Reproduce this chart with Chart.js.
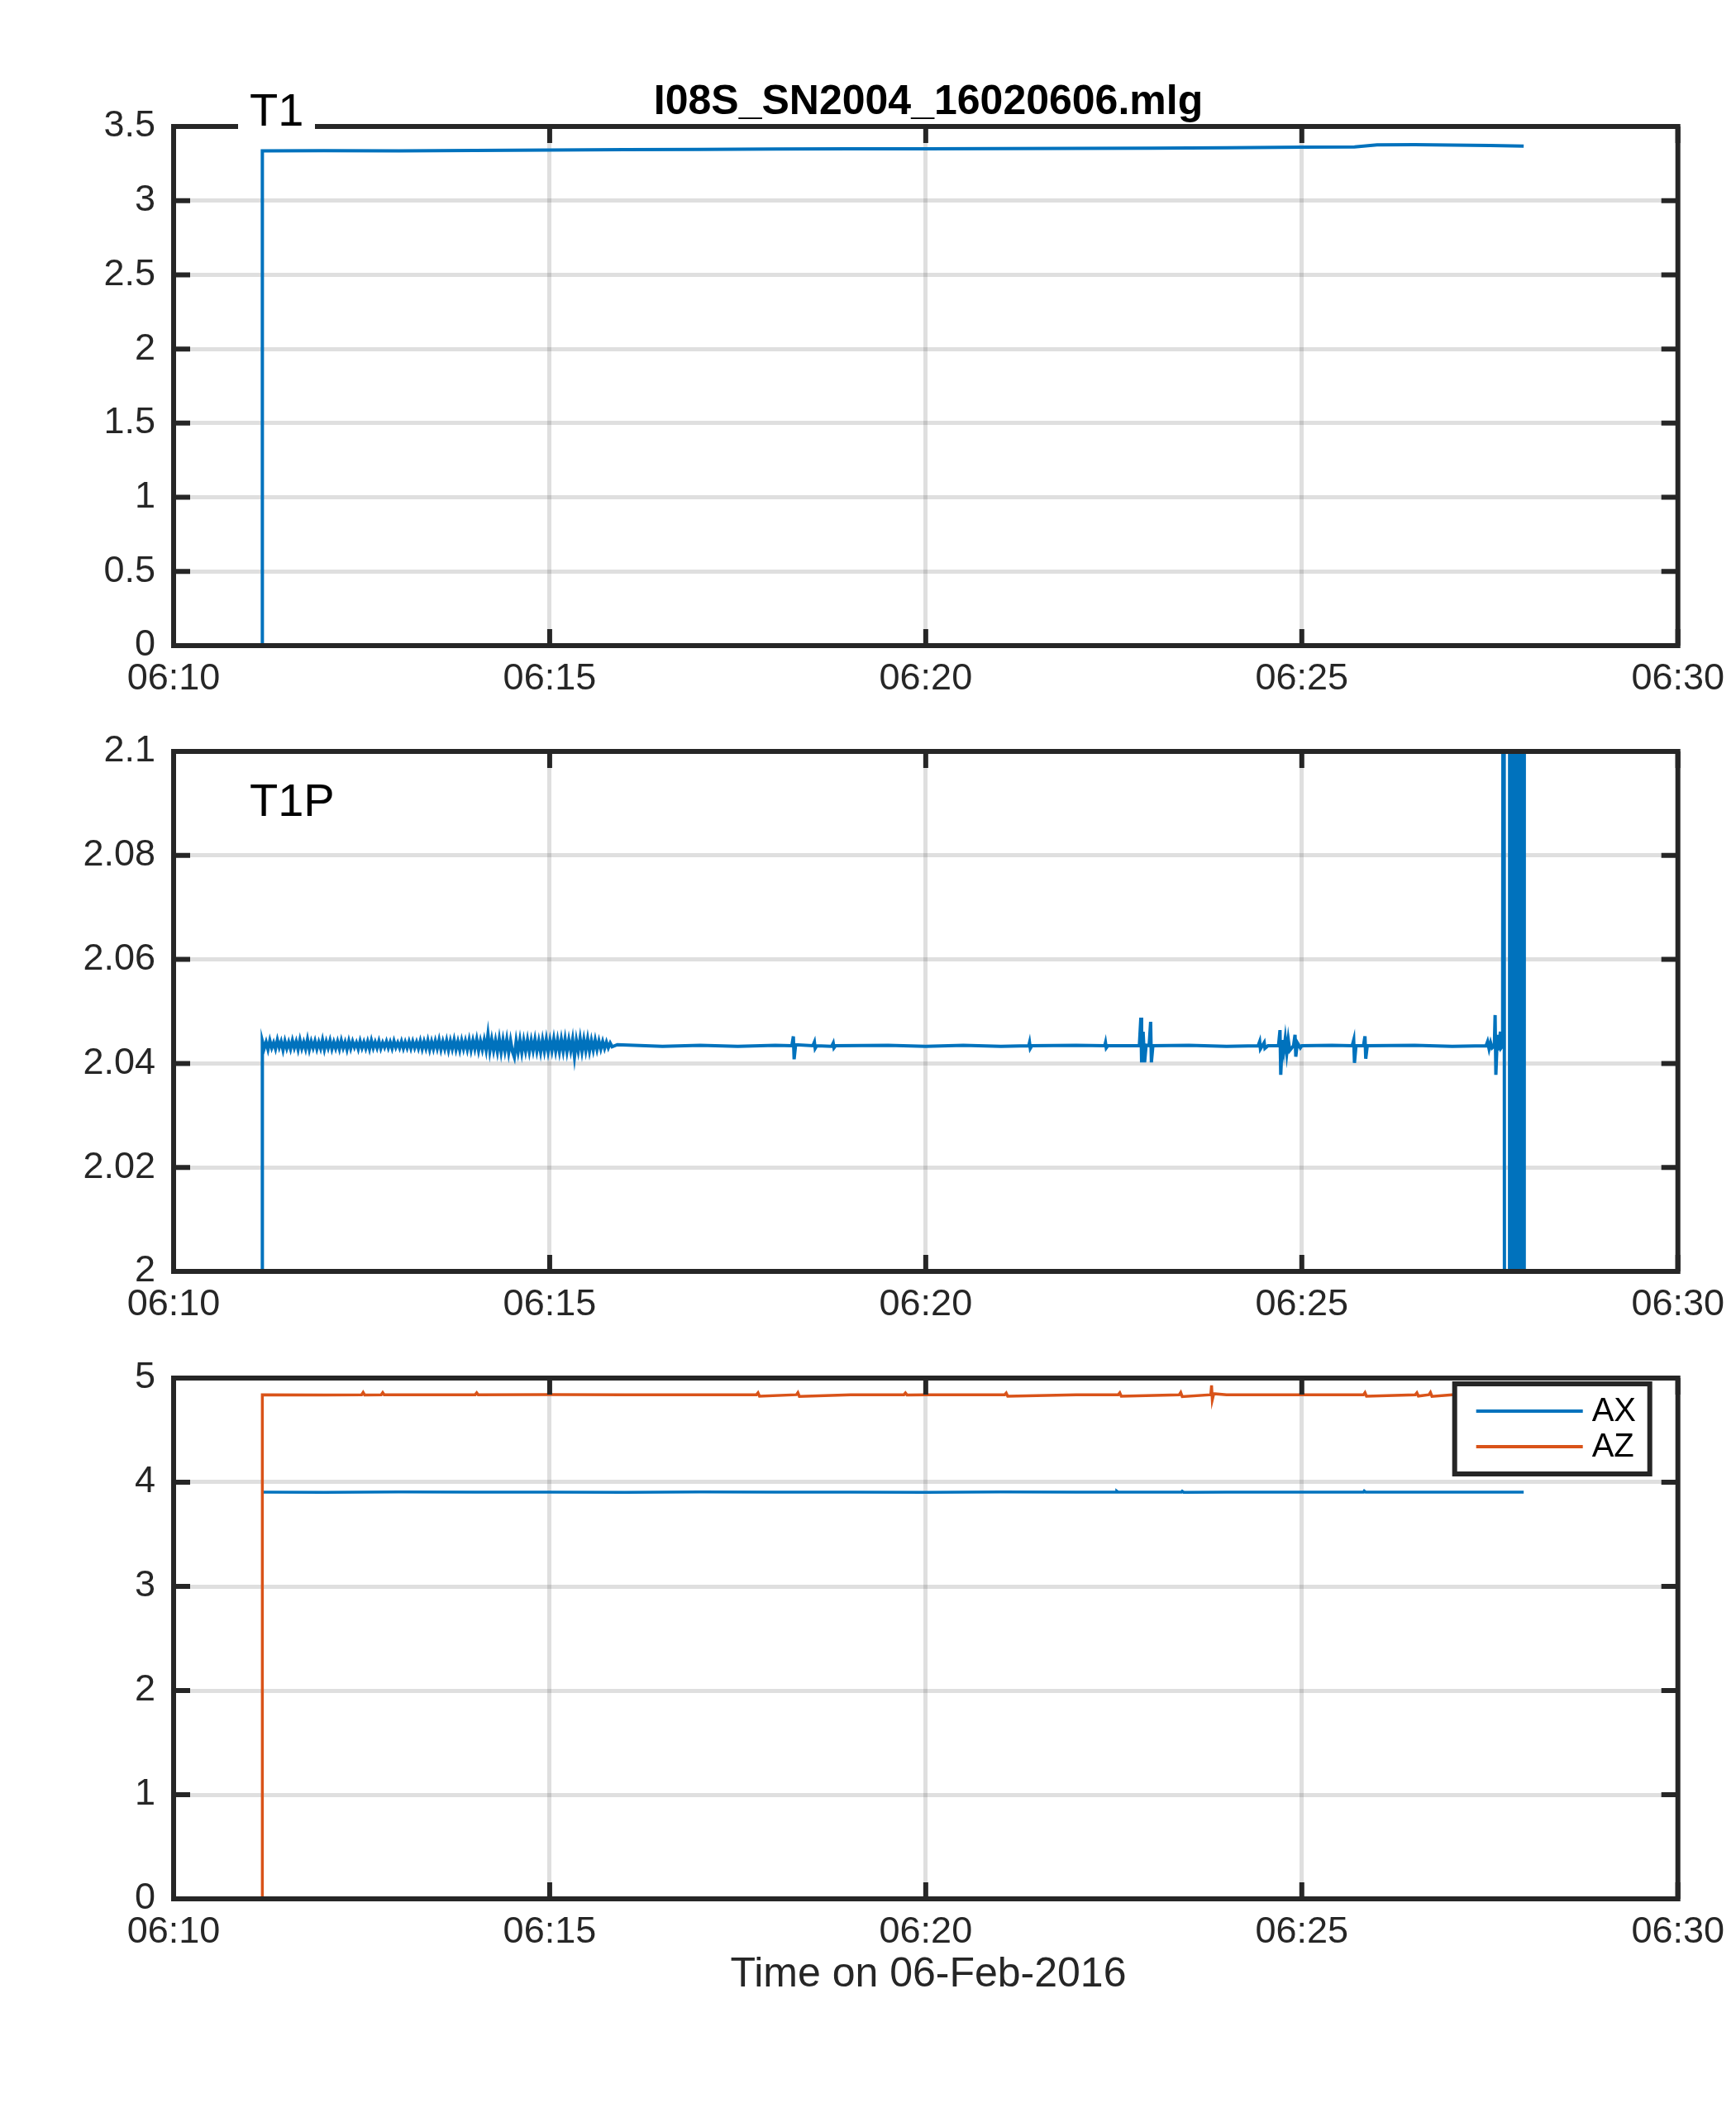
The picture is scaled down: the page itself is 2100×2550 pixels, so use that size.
<!DOCTYPE html>
<html>
<head>
<meta charset="utf-8">
<script src="https://cdn.jsdelivr.net/npm/chart.js@4.4.0/dist/chart.umd.min.js"></script>
<style>
  body { margin: 0; background: #fff; width: 2100px; height: 2550px; position: relative; overflow: hidden; }
  .panel { position: absolute; left: 0; width: 2100px; }
  .txt { position: absolute; font-family: 'Liberation Sans', Arial, Helvetica, sans-serif; line-height: 1; white-space: nowrap; z-index: 5; }
</style>
</head>
<body>
<div class="panel" style="top:0px;height:900px"><canvas id="c1" width="2100" height="900"></canvas></div>
<div class="panel" style="top:820px;height:850px"><canvas id="c2" width="2100" height="850"></canvas></div>
<div class="panel" style="top:1600px;height:800px"><canvas id="c3" width="2100" height="800"></canvas></div>

<div class="txt" style="left:1123px;top:96px;transform:translateX(-50%);font-size:50px;font-weight:bold;color:#000">I08S_SN2004_16020606.mlg</div>
<div class="txt" style="left:288px;top:105px;font-size:56px;color:#000;background:#fff;padding:0 14px">T1</div>
<div class="txt" style="left:302px;top:940px;font-size:56px;color:#000">T1P</div>
<div class="txt" style="left:1123px;top:2361px;transform:translateX(-50%);font-size:50px;color:#262626">Time on 06-Feb-2016</div>

<script>
// time axis: minutes after 06:00
const xTicks = [10, 15, 20, 25, 30];

// T1
const t1Time = [11.18, 11.18, 12, 13, 14, 15, 16, 17, 18, 19, 20, 21, 22, 23, 24, 25, 25.7, 26.0, 26.5, 27, 27.5, 27.95];
const t1Value = [0, 3.335, 3.337, 3.336, 3.338, 3.341, 3.344, 3.346, 3.348, 3.349, 3.350, 3.351, 3.352, 3.354, 3.357, 3.360, 3.362, 3.376, 3.377, 3.374, 3.372, 3.368];

// T1P: noisy start (sampled every 0.025 min from 11.18)
const t1pBandStart = 11.18;
const t1pBandStep = 0.025;
const t1pBand = [
  2.0443, 2.0429, 2.0441, 2.0427, 2.0444, 2.0430, 2.0440, 2.0428, 2.0445, 2.0431, 2.0442, 2.0426, 2.0443, 2.0429, 2.0441, 2.0428, 2.0444, 2.0430, 2.0442, 2.0427,
  2.0445, 2.0429, 2.0441, 2.0428, 2.0446, 2.0427, 2.0442, 2.0430, 2.0443, 2.0428, 2.0441, 2.0429, 2.0445, 2.0427, 2.0442, 2.0430, 2.0444, 2.0428, 2.0441, 2.0429,
  2.0442, 2.0428, 2.0444, 2.0430, 2.0441, 2.0427, 2.0443, 2.0429, 2.0442, 2.0431, 2.0440, 2.0428, 2.0443, 2.0430, 2.0441, 2.0429, 2.0442, 2.0428, 2.0444, 2.0430,
  2.0441, 2.0430, 2.0443, 2.0429, 2.0440, 2.0431, 2.0442, 2.0430, 2.0441, 2.0429, 2.0443, 2.0431, 2.0440, 2.0430, 2.0442, 2.0429, 2.0441, 2.0430, 2.0442, 2.0429,
  2.0442, 2.0430, 2.0441, 2.0429, 2.0443, 2.0428, 2.0442, 2.0429, 2.0444, 2.0427, 2.0442, 2.0428, 2.0443, 2.0429, 2.0445, 2.0427, 2.0442, 2.0428, 2.0444, 2.0426,
  2.0443, 2.0428, 2.0445, 2.0427, 2.0442, 2.0426, 2.0444, 2.0428, 2.0443, 2.0427, 2.0445, 2.0426, 2.0444, 2.0428, 2.0446, 2.0425, 2.0443, 2.0427, 2.0445, 2.0426,
  2.0456, 2.0424, 2.0446, 2.0425, 2.0444, 2.0423, 2.0447, 2.0422, 2.0445, 2.0424, 2.0446, 2.0421, 2.0444, 2.0423, 2.0412, 2.0443, 2.0422, 2.0445, 2.0421, 2.0444,
  2.0424, 2.0445, 2.0423, 2.0444, 2.0425, 2.0446, 2.0424, 2.0443, 2.0422, 2.0445, 2.0424, 2.0446, 2.0423, 2.0444, 2.0425, 2.0447, 2.0424, 2.0445, 2.0423, 2.0446,
  2.0424, 2.0447, 2.0423, 2.0445, 2.0425, 2.0446, 2.0413, 2.0444, 2.0424, 2.0448, 2.0423, 2.0446, 2.0425, 2.0447, 2.0424, 2.0444, 2.0426, 2.0445, 2.0427, 2.0443,
  2.0428, 2.0442, 2.0429, 2.0441, 2.0430, 2.0439, 2.0432
];
// T1P: quieter part with spikes
const t1pTailTime = [
  15.90, 16.5, 17.0, 17.5, 18.0, 18.22, 18.24, 18.25, 18.27, 18.5, 18.52, 18.53, 18.55,
  18.75, 18.77, 18.78, 18.80, 19.5, 20.0, 20.5, 21.0, 21.37, 21.38, 21.39, 21.41, 22.0,
  22.38, 22.39, 22.40, 22.42, 22.84, 22.86, 22.87, 22.89, 22.91, 22.93, 22.97, 22.99, 23.00, 23.02,
  23.5, 24.0, 24.42, 24.44, 24.45, 24.50, 24.51, 24.55, 24.69, 24.71, 24.72, 24.74, 24.76,
  24.78, 24.80, 24.82, 24.84, 24.89, 24.91, 24.92, 24.94, 24.98, 25.00, 25.4, 25.67, 25.69,
  25.70, 25.72, 25.82, 25.84, 25.85, 25.87, 26.5, 27.0, 27.45, 27.47, 27.49, 27.51, 27.53,
  27.56, 27.57, 27.58, 27.60, 27.62, 27.64, 27.65, 27.67
];
const t1pTailValue = [
  2.0436, 2.0433, 2.0435, 2.0433, 2.0435, 2.0434, 2.0452, 2.0408, 2.0436, 2.0434, 2.0441, 2.0429, 2.0434,
  2.0433, 2.0439, 2.0430, 2.0434, 2.0435, 2.0433, 2.0435, 2.0433, 2.0434, 2.0440, 2.0429, 2.0434, 2.0435,
  2.0434, 2.0440, 2.0430, 2.0434, 2.0434, 2.0488, 2.0402, 2.0461, 2.0402, 2.0435, 2.0434, 2.0480, 2.0402, 2.0434,
  2.0435, 2.0433, 2.0434, 2.0442, 2.0428, 2.0440, 2.0429, 2.0434, 2.0434, 2.0464, 2.0378, 2.0445, 2.0424,
  2.0448, 2.0420, 2.0446, 2.0425, 2.0434, 2.0455, 2.0413, 2.0440, 2.0430, 2.0434, 2.0435, 2.0434, 2.0445,
  2.0401, 2.0434, 2.0434, 2.0452, 2.0409, 2.0434, 2.0435, 2.0433, 2.0434, 2.0442, 2.0428, 2.0440, 2.0430,
  2.0434, 2.0493, 2.0378, 2.0455, 2.0425, 2.0461, 2.0430, 2.0434
];
// T1P: end of record, readings jump off scale
const t1pEndTime = [
  27.685, 27.70, 27.76, 27.765, 27.775, 27.785, 27.795, 27.805, 27.815, 27.825, 27.835, 27.845,
  27.855, 27.865, 27.875, 27.885, 27.895, 27.905, 27.915, 27.925, 27.935, 27.945, 27.955, 27.96
];
const t1pEndValue = [
  2.3, 1.8, 1.8, 2.3, 1.8, 2.3, 1.8, 2.3, 1.8, 2.3, 1.8, 2.3,
  1.8, 2.3, 1.8, 2.3, 1.8, 2.3, 1.8, 2.3, 1.8, 2.3, 1.8, 2.3
];

// AX / AZ
const axTime = [11.18, 12, 13, 14, 15, 16, 17, 18, 19, 20, 21, 22, 22.53, 22.54, 22.56, 23, 23.40, 23.41, 23.43, 24, 25, 25.82, 25.83, 25.85, 26, 27, 27.95];
const axValue = [3.905, 3.903, 3.906, 3.904, 3.905, 3.903, 3.906, 3.904, 3.905, 3.903, 3.906, 3.904, 3.905, 3.915, 3.904, 3.905, 3.905, 3.914, 3.903, 3.905, 3.904, 3.905, 3.916, 3.904, 3.905, 3.904, 3.905];
const azTime = [
  11.18, 11.18, 12, 12.50, 12.52, 12.54, 12.76, 12.78, 12.80, 13, 14.01, 14.03, 14.05, 15, 16, 17,
  17.75, 17.77, 17.79, 18.28, 18.30, 18.32, 19, 19.71, 19.73, 19.75, 20, 21.05, 21.07, 21.09, 22,
  22.56, 22.58, 22.60, 23.37, 23.39, 23.41, 23.79, 23.80, 23.81, 23.83, 24, 25, 25.82, 25.84, 25.86,
  26.51, 26.53, 26.55, 26.69, 26.71, 26.73, 27, 27.95
];
const azValue = [
  0, 4.840, 4.838, 4.840, 4.862, 4.838, 4.840, 4.860, 4.839, 4.840, 4.840, 4.858, 4.839, 4.841, 4.839, 4.840,
  4.840, 4.858, 4.825, 4.840, 4.860, 4.824, 4.840, 4.840, 4.857, 4.838, 4.840, 4.840, 4.856, 4.826, 4.840,
  4.840, 4.858, 4.825, 4.840, 4.862, 4.822, 4.840, 4.930, 4.790, 4.850, 4.840, 4.839, 4.840, 4.860, 4.826,
  4.840, 4.858, 4.827, 4.840, 4.862, 4.824, 4.840, 4.840
];

const FONT = "'Liberation Sans', Arial, Helvetica, sans-serif";
const BLUE = '#0072BD';
const ORANGE = '#D95319';
const INK = '#262626';
const GRID = 'rgba(38,38,38,0.15)';

function pts(times, values) {
  return times.map((t, i) => ({ x: t, y: values[i] }));
}

const t1pData = [{ x: t1pBandStart, y: 0 }]
  .concat(t1pBand.map((v, i) => ({ x: t1pBandStart + i * t1pBandStep, y: v })))
  .concat(pts(t1pTailTime, t1pTailValue))
  .concat(pts(t1pEndTime, t1pEndValue));

// matlab style box with inward ticks
const boxPlugin = {
  id: 'box',
  afterDatasetsDraw(chart) {
    const { ctx, chartArea: a, scales } = chart;
    ctx.save();
    ctx.strokeStyle = INK;
    ctx.lineWidth = 6;
    ctx.beginPath();
    scales.x.ticks.forEach(t => {
      const px = scales.x.getPixelForValue(t.value);
      ctx.moveTo(px, a.bottom); ctx.lineTo(px, a.bottom - 20);
      ctx.moveTo(px, a.top); ctx.lineTo(px, a.top + 20);
    });
    scales.y.ticks.forEach(t => {
      const py = scales.y.getPixelForValue(t.value);
      ctx.moveTo(a.left, py); ctx.lineTo(a.left + 20, py);
      ctx.moveTo(a.right, py); ctx.lineTo(a.right - 20, py);
    });
    ctx.stroke();
    ctx.strokeRect(a.left, a.top, a.right - a.left, a.bottom - a.top);
    ctx.restore();
  }
};

const legendPlugin = {
  id: 'boxLegend',
  afterDraw(chart) {
    const { ctx, chartArea: a } = chart;
    const w = 236, h = 109;
    const left = a.right - 34 - w, top = a.top + 7;
    ctx.save();
    ctx.fillStyle = '#fff';
    ctx.fillRect(left, top, w, h);
    ctx.strokeStyle = INK;
    ctx.lineWidth = 6;
    ctx.strokeRect(left, top, w, h);
    ctx.font = '40px ' + FONT;
    ctx.textBaseline = 'middle';
    chart.data.datasets.forEach((ds, i) => {
      const y = top + 33 + i * 43;
      ctx.strokeStyle = ds.borderColor;
      ctx.lineWidth = 4;
      ctx.beginPath();
      ctx.moveTo(left + 26, y); ctx.lineTo(left + 155, y);
      ctx.stroke();
      ctx.fillStyle = '#000';
      ctx.fillText(ds.label, left + 166, y + 1);
    });
    ctx.restore();
  }
};

function makeChart(id, datasets, yMin, yMax, yStep, pad, extra) {
  return new Chart(document.getElementById(id), {
    type: 'line',
    data: { datasets },
    options: {
      responsive: false,
      devicePixelRatio: 1,
      animation: false,
      layout: { padding: pad },
      plugins: { legend: { display: false }, tooltip: { enabled: false } },
      elements: { point: { radius: 0 }, line: { tension: 0 } },
      scales: {
        x: {
          type: 'linear', min: 10, max: 30,
          afterFit: s => { s.height = 80; },
          afterBuildTicks: s => { s.ticks = xTicks.map(v => ({ value: v })); },
          ticks: {
            autoSkip: false, maxRotation: 0, padding: 14, color: INK,
            font: { family: FONT, size: 45 },
            callback: v => '06:' + String(v).padStart(2, '0')
          },
          grid: { color: GRID, lineWidth: 5, drawTicks: false },
          border: { display: false }
        },
        y: {
          min: yMin, max: yMax,
          afterFit: s => { s.width = 210; },
          ticks: {
            stepSize: yStep, padding: 22, color: INK,
            font: { family: FONT, size: 45 },
            callback: v => String(+v.toFixed(3))
          },
          grid: { color: GRID, lineWidth: 5, drawTicks: false },
          border: { display: false }
        }
      }
    },
    plugins: [boxPlugin].concat(extra || [])
  });
}

makeChart('c1', [
  { label: 'T1', data: pts(t1Time, t1Value), borderColor: BLUE, borderWidth: 4 }
], 0, 3.5, 0.5, { top: 153, right: 63, bottom: 39, left: 0 });

makeChart('c2', [
  { label: 'T1P', data: t1pData, borderColor: BLUE, borderWidth: 4 }
], 2, 2.1, 0.02, { top: 89, right: 63, bottom: 52, left: 0 });

makeChart('c3', [
  { label: 'AX', data: pts(axTime, axValue), borderColor: BLUE, borderWidth: 3.5 },
  { label: 'AZ', data: pts(azTime, azValue), borderColor: ORANGE, borderWidth: 3.5, order: -1 }
], 0, 5, 1, { top: 67, right: 63, bottom: 23, left: 0 }, [legendPlugin]);
</script>
</body>
</html>
